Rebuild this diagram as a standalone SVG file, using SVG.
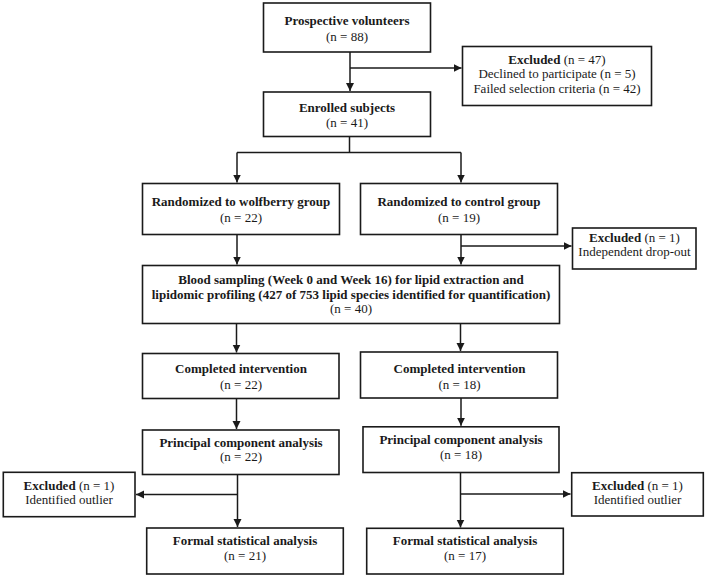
<svg xmlns="http://www.w3.org/2000/svg" width="708" height="577" viewBox="0 0 708 577">
<style>
.box{fill:#fff;stroke:#1a1a1a;stroke-width:1.6}
.ln{fill:none;stroke:#1a1a1a;stroke-width:1.5}
text{font-family:"Liberation Serif","Times New Roman",serif;font-size:13px;fill:#1a1a1a;text-anchor:middle}
.b{font-weight:bold}
</style>
<defs>
<marker id="ah" markerUnits="userSpaceOnUse" markerWidth="9" markerHeight="9" refX="8" refY="4" orient="auto">
<path d="M0,0 L8,4 L0,8 z" fill="#1a1a1a"/>
</marker>
</defs>
<rect width="708" height="577" fill="#fff"/>
<g id="connectors">
<line class="ln" x1="350" y1="52" x2="350" y2="91" marker-end="url(#ah)"/>
<line class="ln" x1="350" y1="68" x2="461.5" y2="68" marker-end="url(#ah)"/>
<line class="ln" x1="349.5" y1="136.5" x2="349.5" y2="152.5"/>
<line class="ln" x1="237" y1="152.5" x2="461" y2="152.5"/>
<line class="ln" x1="237" y1="152.5" x2="237" y2="182.5" marker-end="url(#ah)"/>
<line class="ln" x1="461" y1="152.5" x2="461" y2="182.5" marker-end="url(#ah)"/>
<line class="ln" x1="237" y1="234.5" x2="237" y2="264.5" marker-end="url(#ah)"/>
<line class="ln" x1="461" y1="234.5" x2="461" y2="264.5" marker-end="url(#ah)"/>
<line class="ln" x1="461" y1="246" x2="571.5" y2="246" marker-end="url(#ah)"/>
<line class="ln" x1="236.5" y1="323.5" x2="236.5" y2="352.5" marker-end="url(#ah)"/>
<line class="ln" x1="460.5" y1="323.5" x2="460.5" y2="351" marker-end="url(#ah)"/>
<line class="ln" x1="236.5" y1="398.5" x2="236.5" y2="429" marker-end="url(#ah)"/>
<line class="ln" x1="461" y1="398" x2="461" y2="425.8" marker-end="url(#ah)"/>
<line class="ln" x1="237.5" y1="474.5" x2="237.5" y2="527" marker-end="url(#ah)"/>
<line class="ln" x1="237.5" y1="494.5" x2="136" y2="494.5" marker-end="url(#ah)"/>
<line class="ln" x1="460.5" y1="472.5" x2="460.5" y2="527.5" marker-end="url(#ah)"/>
<line class="ln" x1="460.5" y1="494" x2="570.5" y2="494" marker-end="url(#ah)"/>
</g>
<g id="prospective">
<rect class="box" x="263.5" y="3" width="167" height="49"/>
<text class="b" x="347" y="25">Prospective volunteers</text>
<text x="347" y="40.5">(n = 88)</text>
</g>
<g id="excluded1">
<rect class="box" x="462.5" y="46.5" width="189" height="59"/>
<text x="557" y="64"><tspan class="b">Excluded</tspan> (n = 47)</text>
<text x="557" y="78">Declined to participate (n = 5)</text>
<text x="557" y="93">Failed selection criteria (n = 42)</text>
</g>
<g id="enrolled">
<rect class="box" x="263.5" y="92" width="167" height="44.5"/>
<text class="b" x="347" y="112">Enrolled subjects</text>
<text x="347" y="127">(n = 41)</text>
</g>
<g id="rand-wolfberry">
<rect class="box" x="142.5" y="183.5" width="197" height="51"/>
<text class="b" x="241" y="206">Randomized to wolfberry group</text>
<text x="241" y="222">(n = 22)</text>
</g>
<g id="rand-control">
<rect class="box" x="360.5" y="183.5" width="197" height="51"/>
<text class="b" x="459" y="206">Randomized to control group</text>
<text x="459" y="222">(n = 19)</text>
</g>
<g id="excluded2">
<rect class="box" x="572.5" y="228" width="123.5" height="41"/>
<text x="634.5" y="241.5"><tspan class="b">Excluded</tspan> (n = 1)</text>
<text x="634.5" y="256">Independent drop-out</text>
</g>
<g id="blood">
<rect class="box" x="142.5" y="265.5" width="417" height="58"/>
<text class="b" x="351" y="284">Blood sampling (Week 0 and Week 16) for lipid extraction and</text>
<text class="b" x="351" y="298.5">lipidomic profiling (427 of 753 lipid species identified for quantification)</text>
<text x="351" y="313">(n = 40)</text>
</g>
<g id="completed-left">
<rect class="box" x="142.5" y="353.5" width="196.5" height="45"/>
<text class="b" x="241" y="372.5">Completed intervention</text>
<text x="241" y="389">(n = 22)</text>
</g>
<g id="completed-right">
<rect class="box" x="360.5" y="352" width="197" height="46"/>
<text class="b" x="459.5" y="372.5">Completed intervention</text>
<text x="459.5" y="388.5">(n = 18)</text>
</g>
<g id="pca-left">
<rect class="box" x="142.5" y="430" width="196.5" height="44.5"/>
<text class="b" x="241" y="446.5">Principal component analysis</text>
<text x="241" y="461">(n = 22)</text>
</g>
<g id="pca-right">
<rect class="box" x="363" y="426.8" width="196" height="45.7"/>
<text class="b" x="461" y="444">Principal component analysis</text>
<text x="461" y="459">(n = 18)</text>
</g>
<g id="excluded3">
<rect class="box" x="3.3" y="472.3" width="131.7" height="44.4"/>
<text x="69" y="489.5"><tspan class="b">Excluded</tspan> (n = 1)</text>
<text x="69" y="504">Identified outlier</text>
</g>
<g id="excluded4">
<rect class="box" x="571.7" y="472.7" width="131.6" height="43.3"/>
<text x="637.5" y="489.5"><tspan class="b">Excluded</tspan> (n = 1)</text>
<text x="637.5" y="503.5">Identified outlier</text>
</g>
<g id="formal-left">
<rect class="box" x="146.7" y="528" width="196.6" height="46"/>
<text class="b" x="245" y="545">Formal statistical analysis</text>
<text x="245" y="560">(n = 21)</text>
</g>
<g id="formal-right">
<rect class="box" x="366.7" y="528.3" width="196.6" height="45.7"/>
<text class="b" x="465" y="545">Formal statistical analysis</text>
<text x="465" y="559.5">(n = 17)</text>
</g>
</svg>
